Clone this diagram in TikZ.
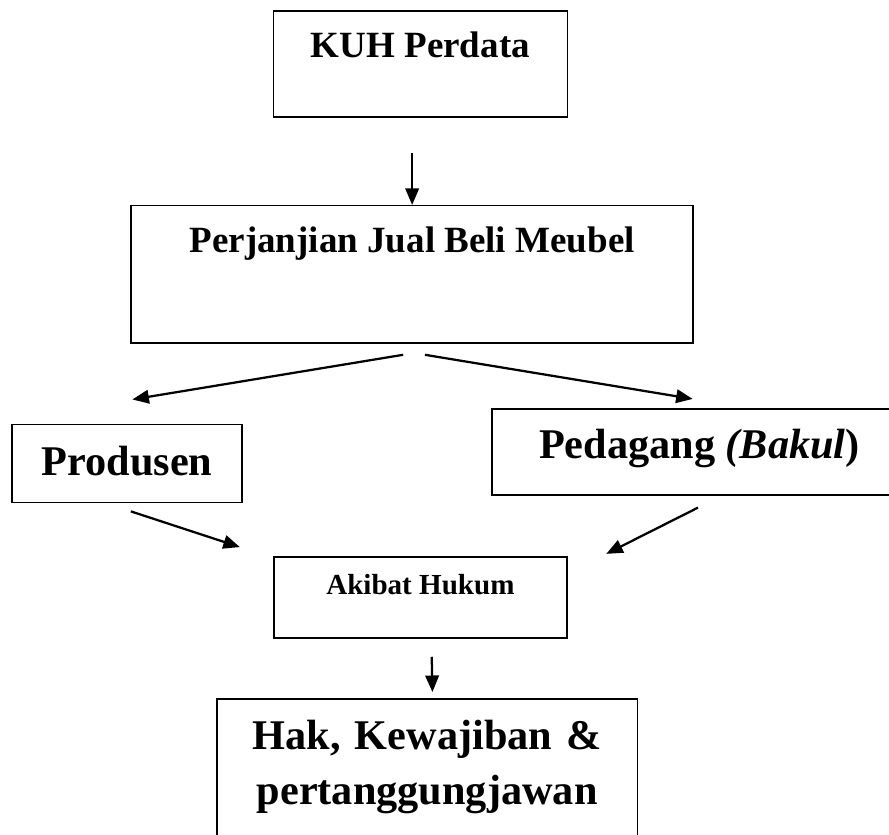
\documentclass[tikz,border=0pt]{standalone}
\usepackage{fontspec}
\setmainfont{Liberation Serif}
\usepackage{tikz}
\usetikzlibrary{arrows.meta}

\begin{document}
\begin{tikzpicture}[
  >={Triangle[length=2.2mm, width=1.8mm]},
  box/.style={draw=black, line width=0.6pt, inner sep=0pt, anchor=base},
  arr/.style={->, line width=0.85pt},
  midt/.style={font=\fontsize{14}{17}\selectfont\bfseries},
  bigt/.style={font=\fontsize{16}{20.8}\selectfont\bfseries},
  smlt/.style={font=\fontsize{11}{13}\selectfont\bfseries}
]
\useasboundingbox (0,0) rectangle (11.82,11.09);
% boxes
\node[box, midt, minimum width=3.91cm, text height=0.625cm, text depth=0.785cm]
  (kuh) at (5.59,10.32) {KUH Perdata};
\node[box, midt, minimum width=7.47cm, text height=0.625cm, text depth=1.197cm]
  (perj) at (5.48,7.73) {Perjanjian Jual Beli Meubel};
\node[box, bigt, minimum width=3.06cm, text height=0.678cm, text depth=0.359cm]
  (prod) at (1.69,4.77) {Produsen};
\node[box, bigt, minimum width=5.52cm, text height=0.665cm, text depth=0.479cm]
  (ped) at (9.30,4.99) {Pedagang \textit{(Bakul}\/)};
\node[box, smlt, minimum width=3.90cm, text height=0.505cm, text depth=0.572cm]
  (akb) at (5.59,3.18) {Akibat Hukum};
\node[box, bigt, text width=5.59cm, align=center, text height=0.678cm, text depth=3cm]
  (hak) at (5.68,1.12) {Hak, Kewajiban \&\\ pertanggungjawan};
% arrows
\draw[arr, shorten <=0.47cm] (perj.north |- kuh.south) -- (perj.north);
\draw[arr] ([shift={(-0.12,-0.15)}]perj.south) -- ([shift={(0.07,0.32)}]prod.north);
\draw[arr] ([shift={(0.17,-0.15)}]perj.south) -- ([shift={(-0.09,0.12)}]ped.north);
\draw[arr] ([shift={(0.05,-0.11)}]prod.south) -- ([shift={(-0.44,0.12)}]akb.north west);
\draw[arr] ([shift={(-0.02,-0.16)}]ped.south) -- ([shift={(0.51,0.03)}]akb.north east);
\draw[arr] ([shift={(0.15,-0.24)}]akb.south) -- ([shift={(0.07,0.08)}]hak.north);
\end{tikzpicture}
\end{document}
